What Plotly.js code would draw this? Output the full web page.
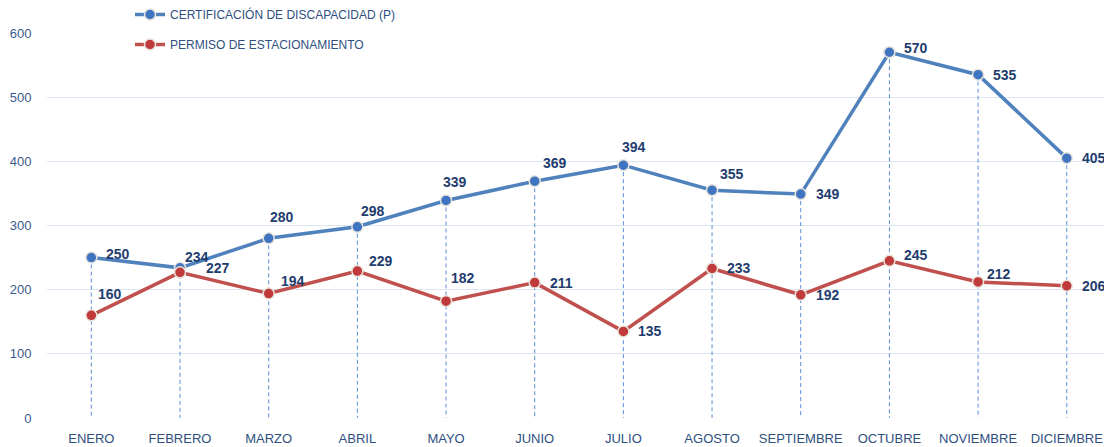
<!DOCTYPE html>
<html><head><meta charset="utf-8">
<script src="https://cdn.plot.ly/plotly-3.0.1.min.js"></script>
<style>html,body{margin:0;padding:0;background:#fff}</style>
</head><body><div id="chart" style="width:1104px;height:447px"></div>
<script>
const months = ["ENERO","FEBRERO","MARZO","ABRIL","MAYO","JUNIO","JULIO","AGOSTO","SEPTIEMBRE","OCTUBRE","NOVIEMBRE","DICIEMBRE"];
const certificacion = [250,234,280,298,339,369,394,355,349,570,535,405];
const permiso = [160,227,194,229,182,211,135,233,192,245,212,206];
const seriesNames = ["CERTIFICACIÓN DE DISCAPACIDAD (P)","PERMISO DE ESTACIONAMIENTO"];
const yTicks = [0,100,200,300,400,500,600];

// label offsets in pixels (style only)
const certDX = [27,17,13,16,9,20,11,20,27,27,27,27];
const certDY = [4,11,21,16,18,18,18,16,0,4,0,0];
const permDX = [19,38,24,24,17,27,27,27,27,27,21,27];
const permDY = [21,4,13,10,23,0,0,0,0,6,8,0];

// drop lines from the highest point of each category to the axis
const dx = [], dy = [];
months.forEach((m,i)=>{ dx.push(m,m,null); dy.push(Math.max(certificacion[i],permiso[i]),0,null); });

const labelFont = {family:"Liberation Sans, Arial, sans-serif", size:14, color:"#1f3d6e", weight:700};

const annotations = [];
months.forEach((m,i)=>{
  annotations.push({x:m, y:certificacion[i], xref:"x", yref:"y", text:String(certificacion[i]), showarrow:false,
    xshift:certDX[i], yshift:certDY[i], font:labelFont, xanchor:"center", yanchor:"middle"});
  annotations.push({x:m, y:permiso[i], xref:"x", yref:"y", text:String(permiso[i]), showarrow:false,
    xshift:permDX[i], yshift:permDY[i], font:labelFont, xanchor:"center", yanchor:"middle"});
});

const traces = [
  {x:dx, y:dy, mode:"lines", line:{color:"#5b8fd6", width:1, dash:"4px,3px"}, showlegend:false, hoverinfo:"skip"},
  {x:months, y:certificacion, name:seriesNames[0], mode:"lines+markers", legendgroup:"a",
   line:{color:"#4f81bd", width:3.5}, marker:{size:11, color:"#3f74c0", line:{color:"#e8e4dc", width:1.5}}, cliponaxis:false},
  {x:months, y:permiso, name:seriesNames[1], mode:"lines+markers", legendgroup:"b",
   line:{color:"#c0504d", width:3.5}, marker:{size:11, color:"#c0393b", line:{color:"#e8e4dc", width:1.5}}, cliponaxis:false}
];

const layout = {
  width:1104, height:447,
  margin:{l:47, r:0, t:32, b:29},
  paper_bgcolor:"#fff", plot_bgcolor:"#fff",
  font:{family:"Liberation Sans, Arial, sans-serif", color:"#3b5a8c", size:13},
  xaxis:{type:"category", range:[-0.5,11.42], showgrid:false, zeroline:false, showline:false,
         ticks:"outside", ticklen:8, tickcolor:"rgba(0,0,0,0)", tickfont:{size:13, color:"#2f4f80"}},
  yaxis:{range:[0,600], tickvals:yTicks, showgrid:true, gridcolor:"#dce6f2", gridwidth:1, zeroline:false,
         showline:false, ticks:"outside", ticklen:12, tickcolor:"rgba(0,0,0,0)", tickfont:{size:13, color:"#3b5a8c"}},
  showlegend:true,
  annotations:annotations,
  legend:{x:(130-47)/1057, y:1.086, xanchor:"left", yanchor:"top", orientation:"v", traceorder:"grouped",
          tracegroupgap:11, bgcolor:"rgba(255,255,255,0)", font:{size:12, color:"#2f4f80"}, itemwidth:30}
};
Plotly.newPlot("chart", traces, layout, {displayModeBar:false, staticPlot:true});
</script></body></html>
